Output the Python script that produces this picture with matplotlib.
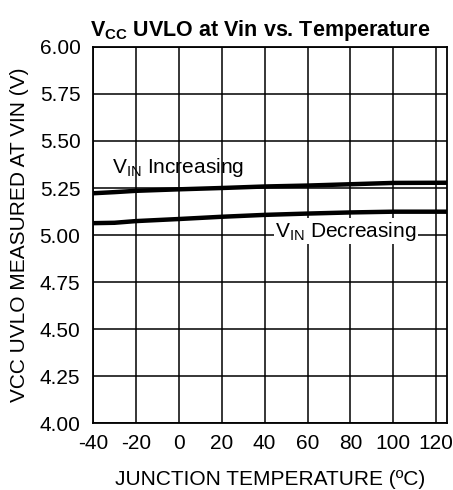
import numpy as np
import matplotlib
matplotlib.use('Agg')
import matplotlib.pyplot as plt

plt.rcParams['font.family'] = ['Liberation Sans', 'DejaVu Sans']
plt.rcParams['mathtext.fontset'] = 'custom'
plt.rcParams['mathtext.rm'] = 'Liberation Sans'
plt.rcParams['mathtext.it'] = 'Liberation Sans'
plt.rcParams['mathtext.bf'] = 'Liberation Sans:bold'
plt.rcParams['axes.unicode_minus'] = False

# Data
temp = [-40, -30, -20, 0, 20, 40, 60, 80, 100, 125]
vin_increasing = [5.222, 5.228, 5.235, 5.243, 5.250, 5.258, 5.263, 5.270, 5.277, 5.278]
vin_decreasing = [5.063, 5.065, 5.074, 5.085, 5.097, 5.107, 5.114, 5.120, 5.124, 5.124]

x_ticks = [-40, -20, 0, 20, 40, 60, 80, 100, 120]
y_ticks = np.arange(4.00, 6.01, 0.25)

fig = plt.figure(figsize=(4.53, 4.90), dpi=100)
ax = fig.add_axes([93 / 453, 1 - 423 / 490, (447 - 93) / 453, (423 - 47) / 490])

ax.plot(temp, vin_increasing, color='black', lw=3.2, solid_capstyle='butt', zorder=3)
ax.plot(temp, vin_decreasing, color='black', lw=3.2, solid_capstyle='butt', zorder=3)

ax.set_xlim(-40, 125)
ax.set_ylim(4.0, 6.0)
ax.set_xticks(x_ticks)
ax.set_yticks(y_ticks)
ax.set_yticklabels([f'{v:.2f}' for v in y_ticks])
ax.grid(True, color='black', lw=1.1)
ax.tick_params(length=0, labelsize=15)
ax.tick_params(axis='y', pad=9)
ax.tick_params(axis='x', pad=8)
for s in ax.spines.values():
    s.set_linewidth(1.3)

ax.text(-31, 5.33, r'V$_{\mathrm{IN}}$ Increasing', fontsize=15, zorder=4)
ax.text(45, 4.99, r'V$_{\mathrm{IN}}$ Decreasing', fontsize=15, zorder=4,
        bbox=dict(facecolor='white', edgecolor='none', pad=1))

ax.set_xlabel('JUNCTION TEMPERATURE (ºC)', fontsize=15, labelpad=12)
ax.set_ylabel('VCC UVLO MEASURED AT VIN (V)', fontsize=15, labelpad=8)
ax.set_title(r'V$_{\mathbf{CC}}$ UVLO at Vin vs. Temperature', fontsize=15.5,
             fontweight='bold', pad=8, x=0.472)

fig.savefig('out.png', dpi=100)
